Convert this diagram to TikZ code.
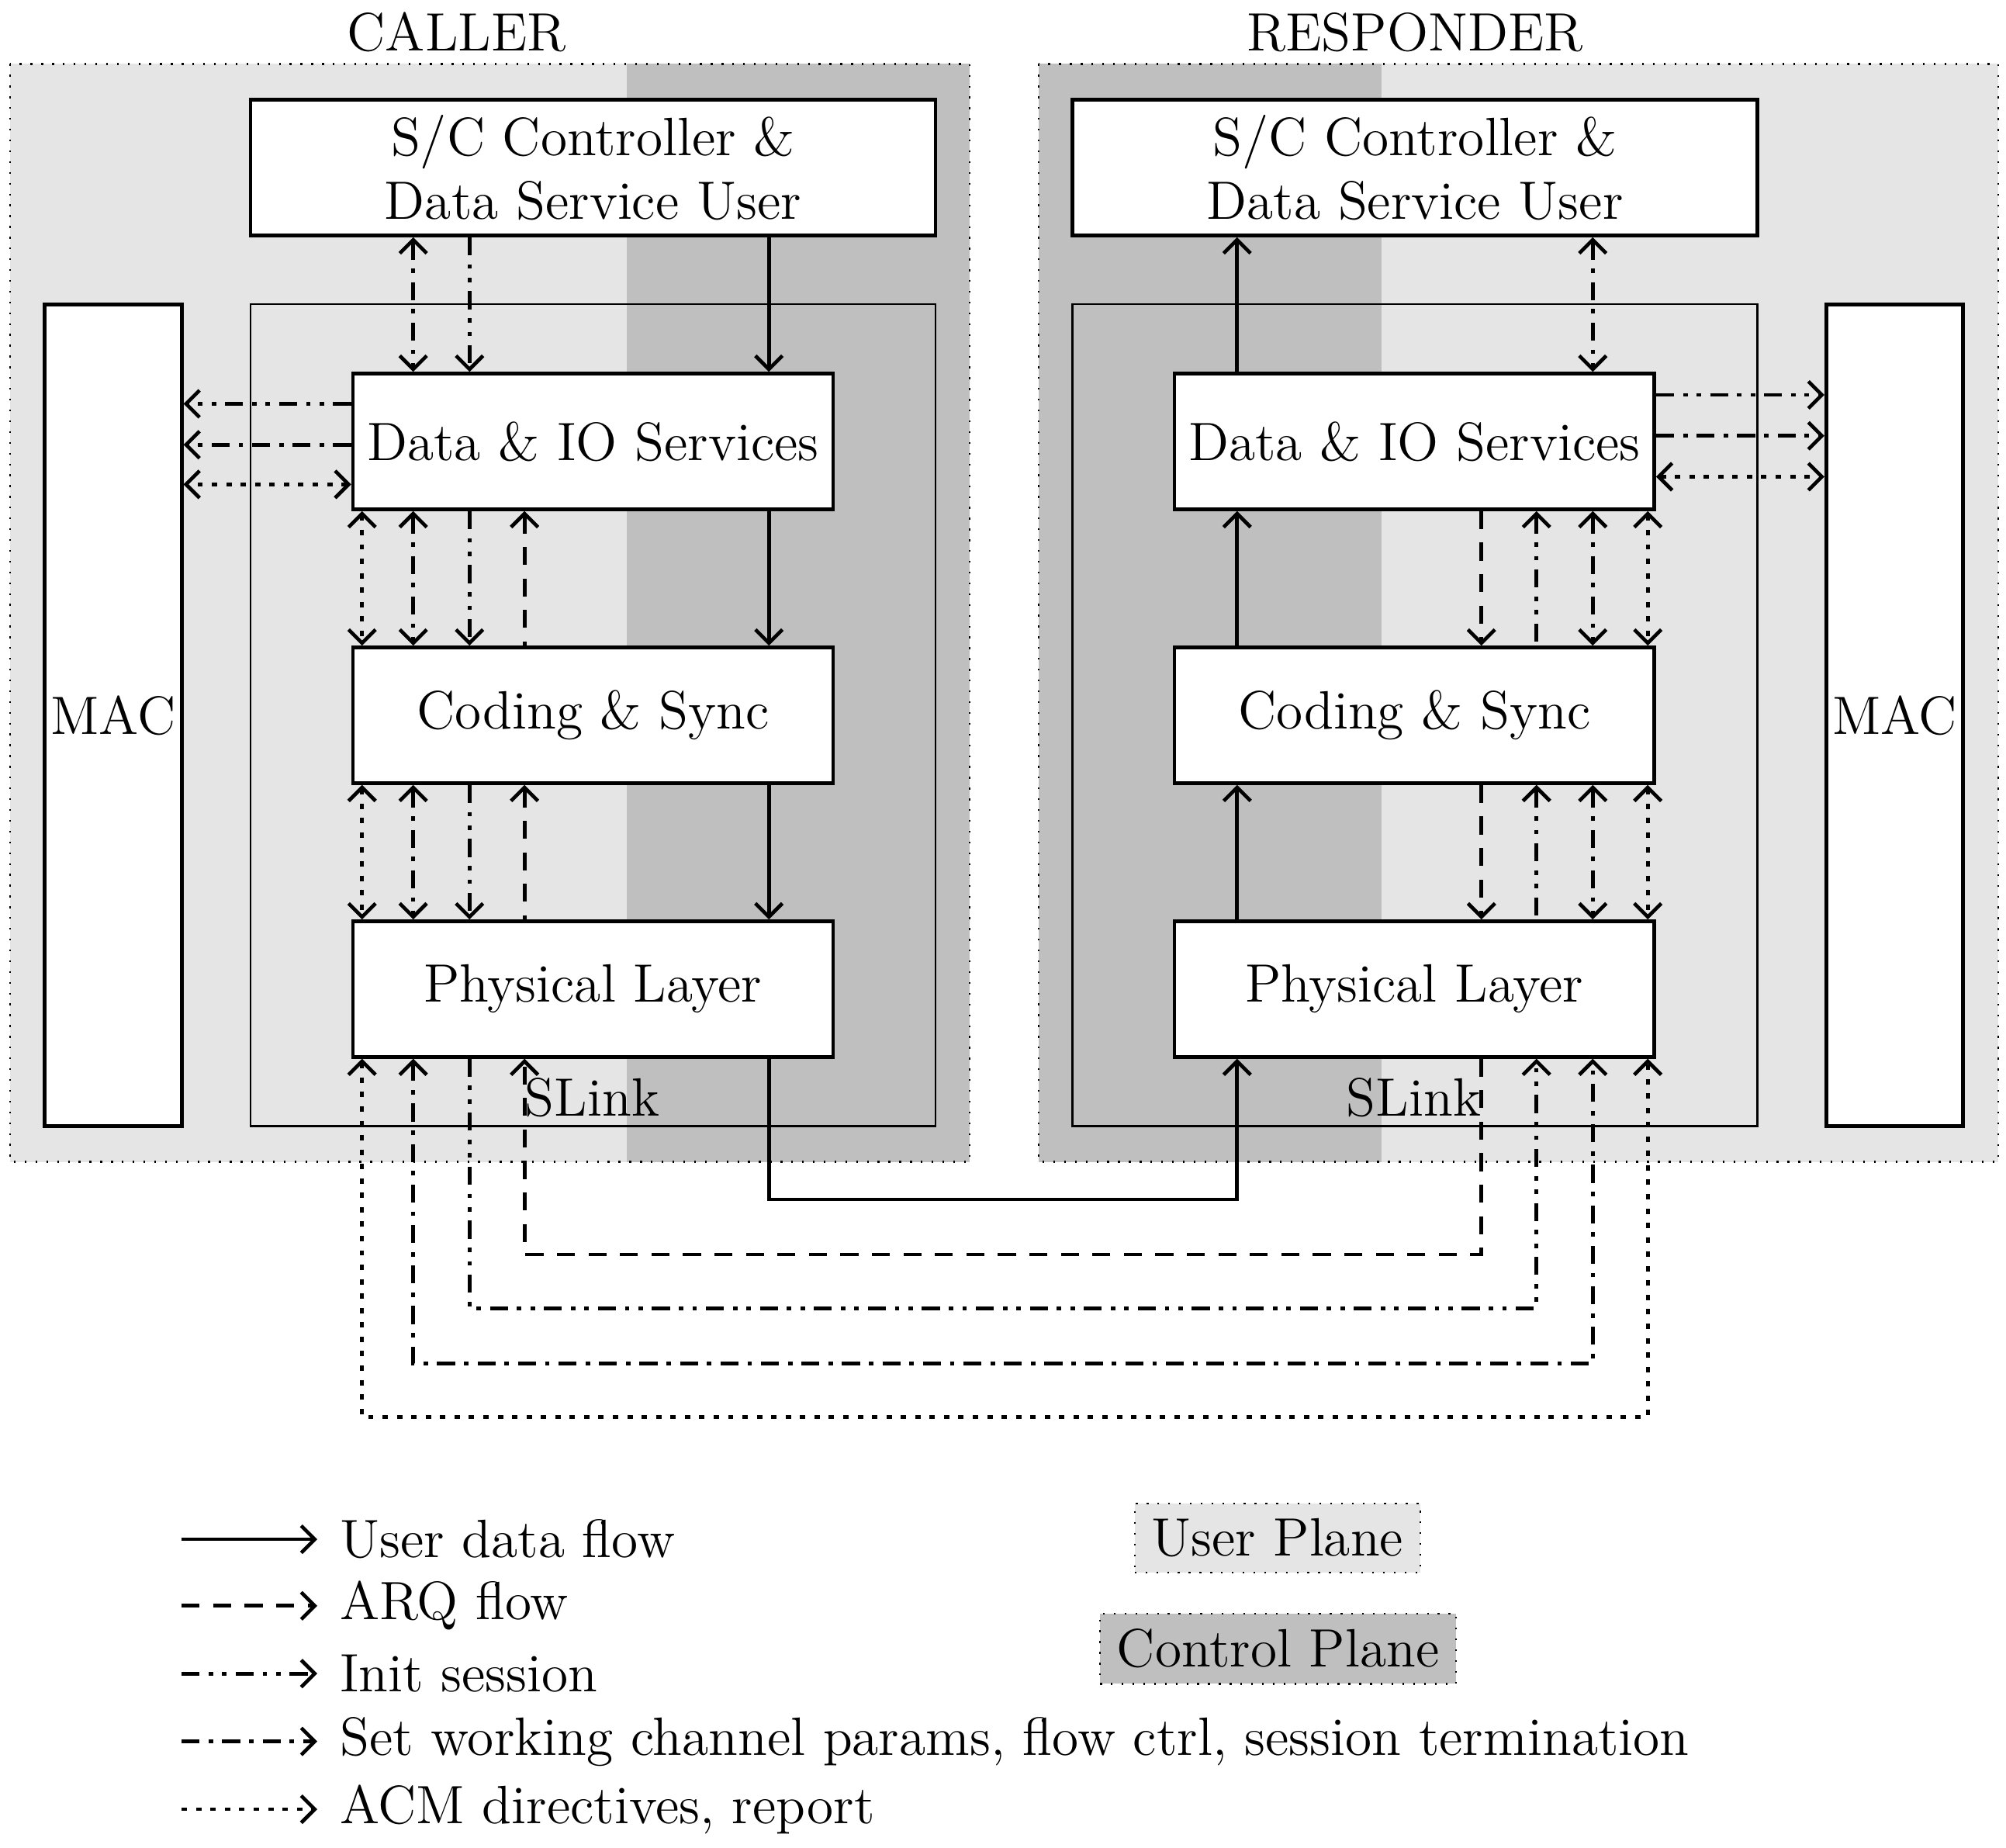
\documentclass[tikz,border=0pt]{standalone}
\usetikzlibrary{arrows.meta,calc}
\begin{document}
\begin{tikzpicture}[x=0.01cm,y=-0.01cm,
  >={Straight Barb[length=3pt,width=6pt]},
  box/.style={draw,thick,fill=white,font=\large,align=center,inner sep=0pt},
  lay/.style={box,minimum width=37.5mm,minimum height=10.6mm},
  sc/.style={box,minimum width=53.5mm,minimum height=10.6mm},
  mac/.style={box,minimum width=10.7mm,minimum height=64.2mm},
  slink/.style={draw,thin,minimum width=53.5mm,minimum height=64.2mm,inner sep=0pt},
  f/.style={thick},
  uf/.style={f,->},
  arq/.style={f,dash pattern=on 4pt off 3pt},
  ini/.style={f,dash pattern=on 4pt off 2pt on 1pt off 2pt on 1pt off 2pt},
  swc/.style={f,dash pattern=on 4pt off 2pt on 1pt off 2pt},
  acm/.style={f,dash pattern=on 1.2pt off 2pt},
  light/.style={fill=black!10},
  dark/.style={fill=black!25}]
\useasboundingbox (0,0) rectangle (1568,1444);
% planes
\fill[light] (8,50) rectangle (758,908);
\fill[dark] (490,50) rectangle (758,908);
\draw[dotted] (8,50) rectangle (758,908);
\fill[light] (812,50) rectangle (1562,908);
\fill[dark] (812,50) rectangle (1080,908);
\draw[dotted] (812,50) rectangle (1562,908);
\node[font=\large] (tc) at (357,25) {CALLER};
\node[font=\large] (tr) at (1106,25) {RESPONDER};
% slink
\node[slink] (sl) at (463.5,559) {};
\node[slink] (sr) at (1106,559) {};
\node[font=\large] (sll) at (463,858) {SLink};
\node[font=\large] (srl) at (1105,858) {SLink};
% boxes
\node[sc] (scl) at (463.5,131) {S/C Controller \&\\Data Service User};
\node[sc] (scr) at (1106,131) {S/C Controller \&\\Data Service User};
\node[mac] (macl) at (88.5,559) {MAC};
\node[mac] (macr) at (1481,559) {MAC};
\node[lay] (dl) at (463.5,345) {Data \& IO Services};
\node[lay] (cl) at (463.5,559) {Coding \& Sync};
\node[lay] (pl) at (463.5,773) {Physical Layer};
\node[lay] (dr) at (1105.5,345) {Data \& IO Services};
\node[lay] (cr) at (1105.5,559) {Coding \& Sync};
\node[lay] (pr) at (1105.5,773) {Physical Layer};
% columns
\coordinate (a) at (283,0); \coordinate (b) at (323,0); \coordinate (c) at (367,0); \coordinate (d) at (410,0); \coordinate (u) at (601,0);
\coordinate (U) at (967,0); \coordinate (D) at (1158,0); \coordinate (C) at (1201,0); \coordinate (B) at (1245,0); \coordinate (A) at (1288,0);
\coordinate (le) at (248,0);
% left stack
\draw[swc,<->] (scl.south -| b) -- (dl.north -| b);
\draw[ini,->] (scl.south -| c) -- (dl.north -| c);
\draw[uf] (scl.south -| u) -- (dl.north -| u);
\foreach \t/\bt in {dl/cl,cl/pl}{
  \draw[acm,<->] (\t.south -| a) -- (\bt.north -| a);
  \draw[swc,<->] (\t.south -| b) -- (\bt.north -| b);
  \draw[ini,->] (\t.south -| c) -- (\bt.north -| c);
  \draw[arq,<-] (\t.south -| d) -- (\bt.north -| d);
  \draw[uf] (\t.south -| u) -- (\bt.north -| u);
}
% right stack
\draw[uf] (dr.north -| U) -- (scr.south -| U);
\draw[swc,<->] (scr.south -| B) -- (dr.north -| B);
\foreach \t/\bt in {dr/cr,cr/pr}{
  \draw[uf] (\bt.north -| U) -- (\t.south -| U);
  \draw[arq,->] (\t.south -| D) -- (\bt.north -| D);
  \draw[ini,<-] (\t.south -| C) -- (\bt.north -| C);
  \draw[swc,<->] (\t.south -| B) -- (\bt.north -| B);
  \draw[acm,<->] (\t.south -| A) -- (\bt.north -| A);
}
% loops
\draw[uf] (pl.south -| u) |- ($(pr.south -| U)+(0,110)$) -- (pr.south -| U);
\draw[arq,->] (pr.south -| D) |- ($(pl.south -| d)+(0,153)$) -- (pl.south -| d);
\draw[ini,->] (pl.south -| c) |- ($(pr.south -| C)+(0,195)$) -- (pr.south -| C);
\draw[swc,<->] (pl.south -| b) |- ($(pr.south -| B)+(0,238)$) -- (pr.south -| B);
\draw[acm,<->] (pl.south -| a) |- ($(pr.south -| A)+(0,280)$) -- (pr.south -| A);
% MAC links
\coordinate (m1) at ($(dl.north west)+(0,25)$);
\coordinate (m2) at ($(dl.north west)+(0,57)$);
\coordinate (m3) at ($(dl.north west)+(0,88)$);
\draw[ini,->] (m1) -- (m1 -| macl.east);
\draw[swc,->] (m2) -- (m2 -| macl.east);
\draw[acm,<->] (m3) -- (m3 -| macl.east);
\coordinate (n1) at ($(dr.north east)+(0,18)$);
\coordinate (n2) at ($(dr.north east)+(0,50)$);
\coordinate (n3) at ($(dr.north east)+(0,82)$);
\draw[ini,->] (n1) -- (n1 -| macr.west);
\draw[swc,->] (n2) -- (n2 -| macr.west);
\draw[acm,<->] (n3) -- (n3 -| macr.west);
% legend
\foreach \y/\s/\t [count=\i] in {1203/uf/{User data flow},1255/arq/{ARQ flow},1308/ini/{Init session},1361/swc/{Set working channel params, flow ctrl, session termination},1414/acm/{ACM directives, report}}{
  \coordinate (l\i) at (142,\y);
  \node[font=\large,anchor=west,inner sep=0pt] (lt\i) at (265,\y) {\t};
  \draw[\s,->] (l\i) -- (l\i -| le);
}
\node[draw,dotted,light,font=\large,minimum width=22.3mm,minimum height=5.4mm] (up) at (998.5,1202) {User Plane};
\node[draw,dotted,dark,font=\large,minimum width=27.8mm,minimum height=5.5mm] (cp) at (999,1288.5) {Control Plane};
\end{tikzpicture}
\end{document}
